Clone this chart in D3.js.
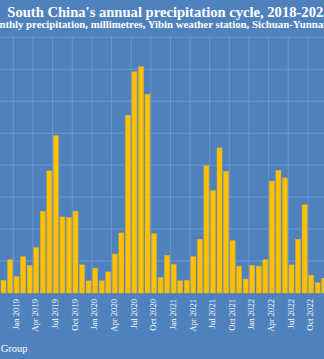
<!DOCTYPE html>
<html>
<head>
<meta charset="utf-8">
<script src="https://cdn.jsdelivr.net/npm/d3@7"></script>
<style>
html,body{margin:0;padding:0;background:#4F81BD;overflow:hidden;}
svg{display:block;}
text{font-family:"Liberation Serif","DejaVu Serif",serif;fill:#fff;}
</style>
</head>
<body>
<svg id="chart" width="324" height="359"></svg>
<script>
const months = ["Nov 2018","Dec 2018",
"Jan 2019","Feb 2019","Mar 2019","Apr 2019","May 2019","Jun 2019","Jul 2019","Aug 2019","Sep 2019","Oct 2019","Nov 2019","Dec 2019",
"Jan 2020","Feb 2020","Mar 2020","Apr 2020","May 2020","Jun 2020","Jul 2020","Aug 2020","Sep 2020","Oct 2020","Nov 2020","Dec 2020",
"Jan 2021","Feb 2021","Mar 2021","Apr 2021","May 2021","Jun 2021","Jul 2021","Aug 2021","Sep 2021","Oct 2021","Nov 2021","Dec 2021",
"Jan 2022","Feb 2022","Mar 2022","Apr 2022","May 2022","Jun 2022","Jul 2022","Aug 2022","Sep 2022","Oct 2022","Nov 2022","Dec 2022"];
const precipitation = [20,52,
26,57,43,71,128,191,246,119,118,128,44,19,
39,19,33,61,94,278,346,354,311,93,24,59,
45,19,20,57,84,199,160,227,190,82,42,22,
43,42,52,175,192,180,44,84,138,28,16,23];
const tickLabels = ["Jan 2019","Apr 2019","Jul 2019","Oct 2019","Jan 2020","Apr 2020","Jul 2020","Oct 2020",
"Jan 2021","Apr 2021","Jul 2021","Oct 2021","Jan 2022","Apr 2022","Jul 2022","Oct 2022"];
const yTicks = [50,100,150,200,250,300,350,400];
const titleText = "South China's annual precipitation cycle, 2018-2023";
const subtitleText = "Monthly precipitation, millimetres, Yibin weather station, Sichuan-Yunnan";
const sourceText = "Group";

const svg = d3.select("#chart");
const step = 6.545;
const x = d3.scaleBand().domain(months).range([0.25, 0.25 + months.length*step])
  .paddingInner(0.23).paddingOuter(0.115);
const y = d3.scaleLinear().domain([0,400]).range([293, 37.3]);

const grid = svg.append("g");
grid.selectAll("line.h").data(yTicks).join("line")
  .attr("x1",0).attr("x2",324)
  .attr("y1",d=>y(d)).attr("y2",d=>y(d))
  .attr("stroke","rgba(255,255,255,0.17)").attr("stroke-width",1);
grid.selectAll("line.v").data(tickLabels).join("line")
  .attr("x1",d=>x(d)-x.step()*0.115).attr("x2",d=>x(d)-x.step()*0.115)
  .attr("y1",y(400)).attr("y2",y(0))
  .attr("stroke","rgba(255,255,255,0.17)").attr("stroke-width",1);

svg.append("g").selectAll("rect").data(months).join("rect")
  .attr("x",d=>x(d)).attr("width",x.bandwidth())
  .attr("y",(d,i)=>y(precipitation[i]))
  .attr("height",(d,i)=>y(0)-y(precipitation[i]))
  .attr("fill","#FFC000").attr("stroke","#D8AC3A").attr("stroke-width",0.5);

svg.append("g").selectAll("text").data(tickLabels).join("text")
  .attr("transform",d=>`translate(${x(d)+x.bandwidth()/2-0.8},299) rotate(-90)`)
  .attr("text-anchor","end").attr("dy","0.35em")
  .style("font-size","8.6px").text(d=>d);

svg.append("text").attr("x",7.3).attr("y",16.7)
  .style("font-size","14.6px").style("font-weight","bold").text(titleText);
svg.append("text").attr("x",-16.2).attr("y",28.3)
  .style("font-size","10.8px").style("font-weight","bold").text(subtitleText);
svg.append("text").attr("x",0.7).attr("y",352)
  .style("font-size","10.5px").text(sourceText);
</script>
</body>
</html>
